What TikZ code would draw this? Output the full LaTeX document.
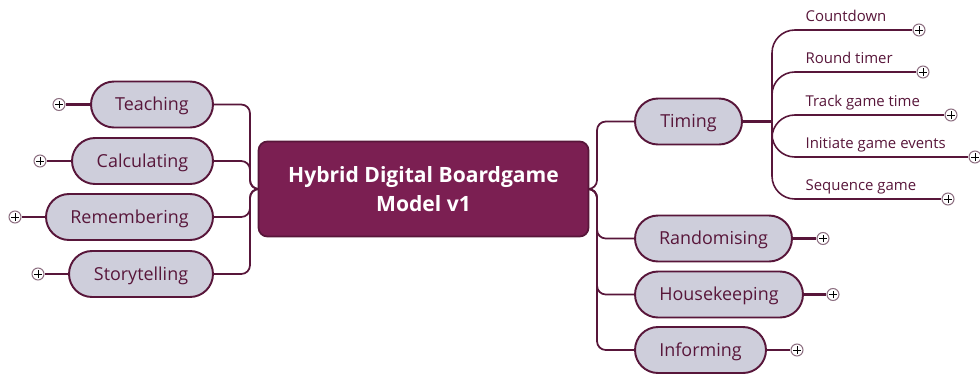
\documentclass[tikz,border=0pt]{standalone}
\usepackage{fontspec}
\setmainfont{Open Sans}
\usepackage{tikz}
\usetikzlibrary{positioning, calc}
\definecolor{plum}{RGB}{123,31,82}
\definecolor{plumdark}{RGB}{88,22,58}
\definecolor{lilac}{RGB}{206,206,219}
\definecolor{knobline}{RGB}{140,110,128}

\begin{document}
\begin{tikzpicture}[
    x=0.02cm, y=-0.02cm,
    topic/.style={rectangle, draw=plumdark, line width=1.1pt, fill=lilac, rounded corners=0.46cm, minimum height=0.92cm, font=\fontsize{10.2}{12}\selectfont, text=plumdark, text height=0.9em, text depth=0.18em, align=center},
    root/.style={rectangle, draw=plumdark, line width=1pt, fill=plum, rounded corners=5pt, minimum width=6.6cm, minimum height=1.9cm, font=\bfseries\fontsize{12}{16.5}\selectfont, text=white, align=center},
    subtxt/.style={font=\fontsize{8.5}{10}\selectfont, text=plumdark, inner xsep=3pt, inner ysep=2.5pt, text depth=2pt},
    knob/.style={circle, draw=knobline, fill=white, line width=0.6pt, minimum size=0.24cm, inner sep=0pt,
        path picture={\draw[black, line width=0.5pt]
            ([xshift=-2.2pt]path picture bounding box.center) -- ([xshift=2.2pt]path picture bounding box.center)
            ([yshift=-2.2pt]path picture bounding box.center) -- ([yshift=2.2pt]path picture bounding box.center);}},
    link/.style={draw=plumdark, line width=1pt, rounded corners=5pt},
    sublink/.style={draw=plumdark, line width=0.9pt, rounded corners=13pt},
    uline/.style={draw=plumdark, line width=1.4pt},
    stub/.style={draw=plumdark, line width=1.3pt},
]
\useasboundingbox (0,0) rectangle (980,373);

% central topic
\node[root] (model) at (423.5,189) {Hybrid Digital Boardgame\\Model v1};

% left branches
\node[topic, minimum width=2.44cm] (teach) at (152,104.5) {Teaching};
\node[topic, minimum width=2.82cm] (calc) at (142.5,161) {Calculating};
\node[topic, minimum width=3.34cm] (remem) at (129.5,217) {Remembering};
\node[topic, minimum width=2.88cm] (story) at (141,274) {Storytelling};
\coordinate (lj) at (250,189);

\node[knob] (teachp) at (59,104.5) {};
\node[knob] (calcp) at (40,161) {};
\node[knob] (rememp) at (15,217) {};
\node[knob] (storyp) at (38,274) {};

\foreach \n in {teach, calc, remem, story} {
    \draw[link] (\n.east) -| (lj) -- (model.west);
    \draw[stub] (\n.west) -- (\n p);
}

% right branches
\node[topic, minimum width=2.14cm] (timing) at (688.5,121.5) {Timing};
\node[topic, minimum width=3.14cm] (random) at (713.5,238.5) {Randomising};
\node[topic, minimum width=3.36cm] (house) at (719,294.5) {Housekeeping};
\node[topic, minimum width=2.62cm] (inform) at (700.5,350) {Informing};
\coordinate (rj) at (597,189);

\node[knob] (randomp) at (823,238.5) {};
\node[knob] (housep) at (833,294.5) {};
\node[knob] (informp) at (797,350) {};

\foreach \n in {timing, random, house, inform}
    \draw[link] (model.east) -- (rj) |- (\n.west);
\foreach \n in {random, house, inform}
    \draw[stub] (\n.east) -- (\n p);

% timing subtopics
\coordinate (tj) at (772,121.5);
\draw[link, line width=1.3pt] (timing.east) -- (tj);

\node[subtxt, anchor=south west] (count) at (800,30) {Countdown};
\node[subtxt, anchor=south west] (round) at (800,72) {Round timer};
\node[subtxt, anchor=south west] (track) at (800,115) {Track game time};
\node[subtxt, anchor=south west] (event) at (800,157) {Initiate game events};
\node[subtxt, anchor=south west] (seq) at (800,199) {Sequence game};

\node[knob] (countp) at (919,30) {};
\node[knob] (roundp) at (923,72) {};
\node[knob] (trackp) at (951,115) {};
\node[knob] (eventp) at (975,157) {};
\node[knob] (seqp) at (948,199) {};

\foreach \n in {count, round, track, event, seq} {
    \draw[sublink] (tj) |- (\n.south west);
    \draw[uline] (\n.south west) -- (\n p);
}
\end{tikzpicture}
\end{document}
